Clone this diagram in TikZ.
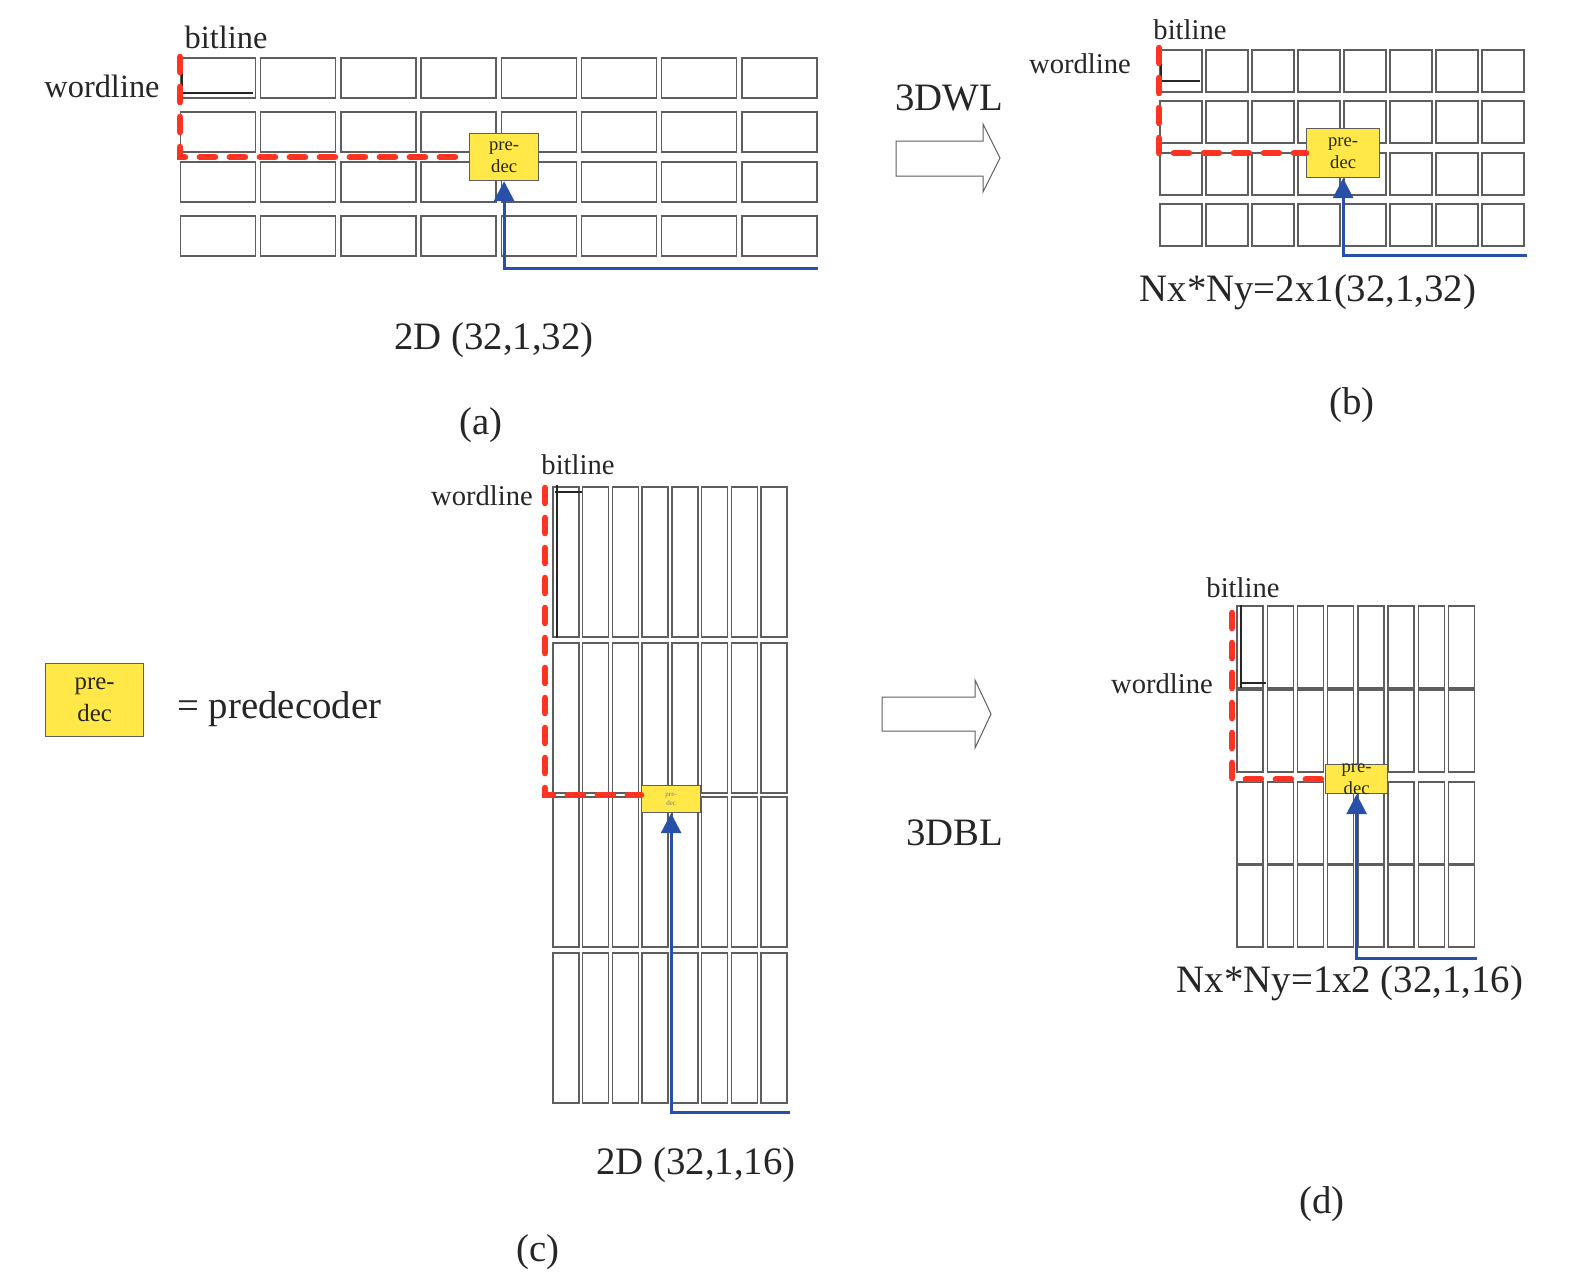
\documentclass[tikz,border=0pt]{standalone}
\usepackage{fontspec}
\setmainfont{Liberation Serif}
\usetikzlibrary{arrows.meta}

\definecolor{wlred}{HTML}{FF3322}
\definecolor{sigblue}{HTML}{2850A8}
\definecolor{decyellow}{HTML}{FFE847}
\definecolor{cellgray}{HTML}{5E5E5E}
\definecolor{inkgray}{HTML}{262626}

\begin{document}
\begin{tikzpicture}[x=0.5pt, y=-0.5pt,
		cell/.style = {draw=cellgray, line width=0.7pt},
		predec/.style = {draw=cellgray, fill=decyellow, line width=0.6pt, inner sep=0, anchor=north west, align=center, text=inkgray},
		cellmark/.style = {draw=inkgray, line width=1pt},
		wlpath/.style = {draw=wlred, line width=3.3pt, line cap=round, dash pattern=on 7.5pt off 7.5pt},
		sig/.style = {draw=sigblue, line width=1.5pt, -{Triangle[length=10pt, width=10pt]}},
		blockarrow/.style = {draw=cellgray, line width=0.5pt},
		big/.style = {inner sep=0, text=inkgray, font=\fontsize{19.4}{23}\selectfont},
		small/.style = {inner sep=0, text=inkgray, font=\fontsize{14.3}{17}\selectfont}
	]
		\useasboundingbox (0,0) rectangle (1577,1286);

		% (a) 2D, long wordlines
		\foreach \c in {0,...,7}
			\foreach \y in {58,112,162,216}
				\draw[cell] ({180.5+80.2*\c},\y) rectangle ++(75,40);
		\draw[cellmark] (182,59) -- (182,99) (182,93) -- (253,93);
		\node[predec, minimum width=34.5pt, minimum height=23.5pt, font=\fontsize{9.3}{11}\selectfont] (pda) at (469,133) {pre-\\dec};
		\coordinate (wla) at (180,57);
		\coordinate (siga) at (818,268);
		\draw[wlpath] (wla) |- (pda.west);
		\draw[sig] (siga) -| (pda.south);
		\node[big, font=\fontsize{16.2}{19}\selectfont] (bita) at (226,37) {bitline};
		\node[big, font=\fontsize{16.2}{19}\selectfont] (worda) at (102,86) {wordline};
		\node[big] (capa) at (494,340) {2D (32,1,32)};
		\node[big] (taga) at (481,425) {(a)};

		% 3DWL
		\draw[blockarrow] (896,141) -- (983,141) -- (983,124) -- (1000,158) -- (983,192) -- (983,176) -- (896,176) -- cycle;
		\node[big, anchor=base] (wlarrow) at (949,110) {3DWL};

		% (b) Nx*Ny=2x1
		\foreach \c in {0,...,7}
			\foreach \y in {50,101,153,204}
				\draw[cell] ({1160+46*\c},\y) rectangle ++(42,42);
		\draw[cellmark] (1161,50) -- (1161,92) (1161,81) -- (1200,81);
		\node[predec, minimum width=36.5pt, minimum height=24.5pt, font=\fontsize{9.3}{11}\selectfont] (pdb) at (1306,128) {pre-\\dec};
		\coordinate (wlb) at (1159,48);
		\coordinate (sigb) at (1527,255);
		\draw[wlpath] (wlb) |- (pdb.west);
		\draw[sig] (sigb) -| (pdb.south);
		\node[small] (bitb) at (1190,30) {bitline};
		\node[small] (wordb) at (1080,64) {wordline};
		\node[big] (capb) at (1308,292) {Nx*Ny=2x1(32,1,32)};
		\node[big] (tagb) at (1352,405) {(b)};

		% legend
		\node[predec, minimum width=49pt, minimum height=36.5pt, font=\fontsize{12.4}{16}\selectfont] (legend) at (45,663) {pre-\\dec};
		\node[big, anchor=base west] (legendtxt) at (177,718) {= predecoder};

		% (c) 2D, long bitlines
		\foreach \c in {0,...,7}
			\foreach \y in {487,643,797,953}
				\draw[cell] ({553+29.7*\c},\y) rectangle ++(26,150);
		\draw[cellmark] (557,485) -- (557,638) (555,492) -- (582,492);
		\node[predec, minimum width=29.5pt, minimum height=13.5pt, font=\fontsize{3.5}{4.5}\selectfont, text=gray] (pdc) at (641,785) {pre-\\dec};
		\coordinate (wlc) at (545,488);
		\coordinate (sigc) at (790,1112);
		\draw[wlpath] (wlc) |- ([yshift=2pt]pdc.west);
		\draw[sig] (sigc) -| (pdc.south);
		\node[small] (bitc) at (578,465) {bitline};
		\node[small] (wordc) at (482,496) {wordline};
		\node[big] (capc) at (696,1165) {2D (32,1,16)};
		\node[big] (tagc) at (538,1252) {(c)};

		% 3DBL
		\draw[blockarrow] (882,697) -- (975,697) -- (975,680) -- (991,714) -- (975,748) -- (975,731) -- (882,731) -- cycle;
		\node[big, anchor=base] (blarrow) at (955,845) {3DBL};

		% (d) Nx*Ny=1x2
		\foreach \c in {0,...,7}
			\foreach \y in {606,690,782,865}
				\draw[cell] ({1237+30.2*\c},\y) rectangle ++(26,82);
		\draw[cellmark] (1241,605) -- (1241,688) (1240,683) -- (1266,683);
		\node[predec, minimum width=31pt, minimum height=14.5pt] (pdd) at (1325,764) {};
		\node[inner sep=0, align=center, text=inkgray, font=\fontsize{9.3}{11}\selectfont] (pddtxt) at (pdd.center) {pre-\\dec};
		\coordinate (wld) at (1232,613);
		\coordinate (sigd) at (1477,958);
		\draw[wlpath] (wld) |- (pdd.west);
		\draw[sig] (sigd) -| (pdd.south);
		\node[small] (bitd) at (1243,588) {bitline};
		\node[small] (wordd) at (1162,684) {wordline};
		\node[big] (capd) at (1350,983) {Nx*Ny=1x2 (32,1,16)};
		\node[big] (tagd) at (1322,1204) {(d)};
	\end{tikzpicture}
\end{document}
